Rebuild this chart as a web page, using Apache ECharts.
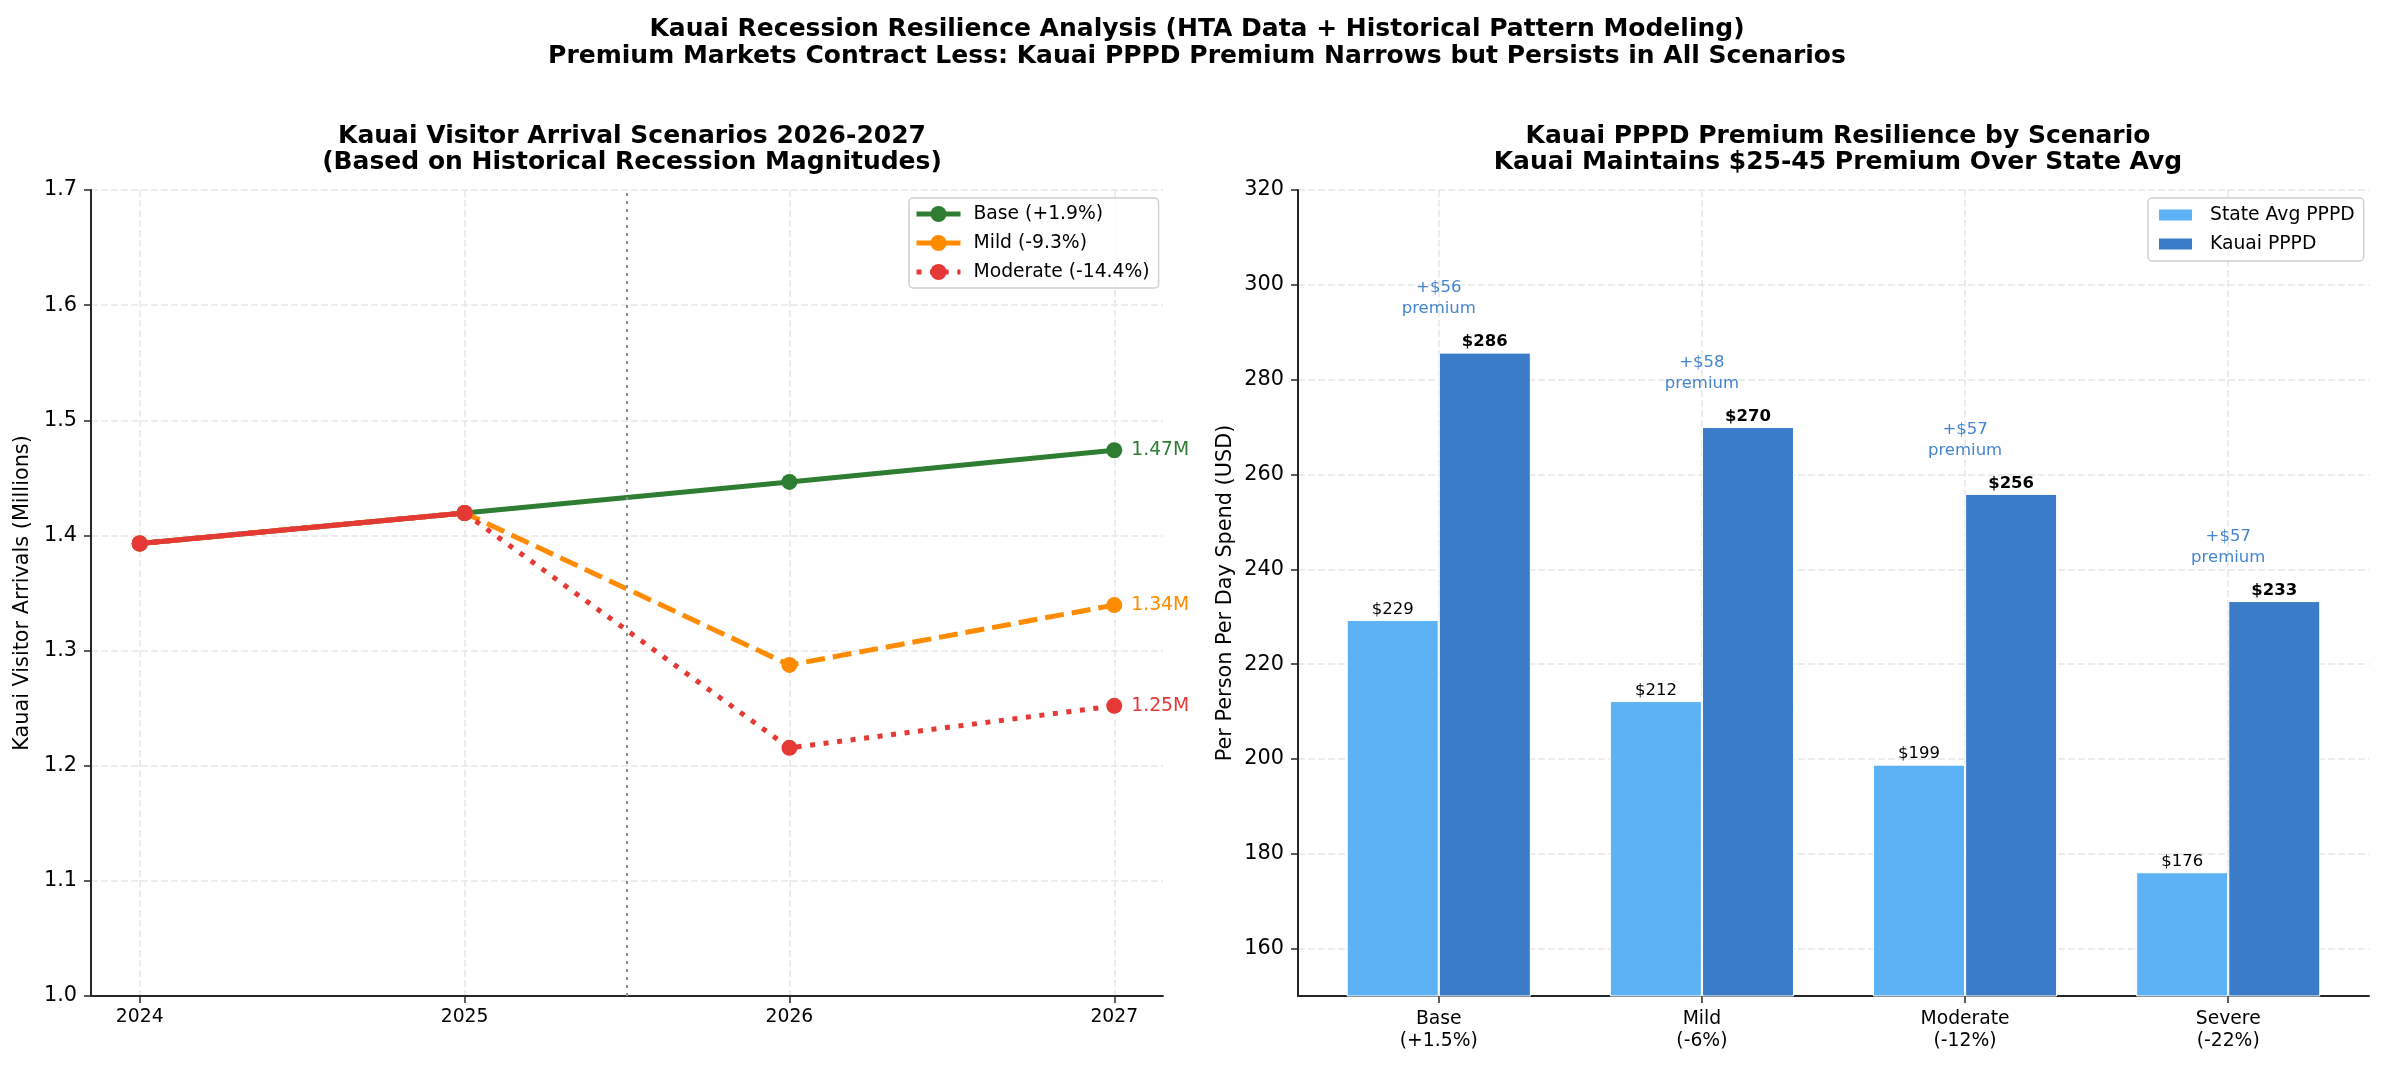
<!DOCTYPE html>
<html>
<head>
<meta charset="utf-8">
<title>Kauai Recession Resilience Analysis</title>
<script src="https://cdn.jsdelivr.net/npm/echarts@6/dist/echarts.min.js"></script>
<style>
  html, body { margin: 0; padding: 0; background: #fff; }
  #chart { width: 2384px; height: 1067px; }
</style>
</head>
<body>
<div id="chart"></div>
<script>
  // 左图：访客数量情景 (百万)
  const years = [2024, 2025, 2026, 2027]
  const baseArrivals = [1.393, 1.4195, 1.4465, 1.474]
  const mildArrivals = [1.393, 1.4195, 1.2875, 1.3395]
  const moderateArrivals = [1.393, 1.4195, 1.2155, 1.252]
  const historyYears = [2024, 2025]
  const arrivalTicks = [1.0, 1.1, 1.2, 1.3, 1.4, 1.5, 1.6, 1.7]

  // 右图：每人每日消费
  const scenarios = ['Base\n(+1.5%)', 'Mild\n(-6%)', 'Moderate\n(-12%)', 'Severe\n(-22%)']
  const stateAvgPPPD = [229.3, 212.2, 198.8, 176.1]
  const kauaiPPPD = [285.7, 270.0, 255.9, 233.3]
  const premiums = [56, 58, 57, 57]
  const pppdTicks = [160, 180, 200, 220, 240, 260, 280, 300, 320]

  const FONT = 'DejaVu Sans'
  const GREEN = '#2e7d32'
  const ORANGE = '#ff8c00'
  const RED = '#e53935'
  const STATE_BLUE = '#5db2f6'
  const KAUAI_BLUE = '#3a7cc8'
  const PREMIUM_BLUE = '#1565c0'
  const AXIS_COLOR = '#262626'

  const catIdx = scenarios.map((s, i) => i)

  const gridLine = { show: true, lineStyle: { color: '#e6e6e6', type: [7, 3], width: 1.5 } }
  const axisLine = { show: true, onZero: false, lineStyle: { color: AXIS_COLOR, width: 2 } }
  const tick = { show: true, length: 7, lineStyle: { color: AXIS_COLOR, width: 1.5 } }

  function arrivalSeries(name, values, color, type) {
    return {
      name: name,
      type: 'line',
      xAxisIndex: 0,
      yAxisIndex: 0,
      data: years.map((y, i) => [y, values[i]]),
      symbol: 'circle',
      symbolSize: 16,
      lineStyle: { color: color, width: 5, type: type },
      itemStyle: { color: color },
      label: {
        show: true,
        position: 'right',
        distance: 9,
        color: color,
        fontFamily: FONT,
        fontSize: 18.75,
        formatter: p => p.dataIndex === years.length - 1 ? p.value[1].toFixed(2) + 'M' : ''
      }
    }
  }

  const chart = echarts.init(document.getElementById('chart'))

  const base = arrivalSeries('Base (+1.9%)', baseArrivals, GREEN, 'solid')
  // 2025年中的分界虚线
  base.markLine = {
    silent: true,
    symbol: 'none',
    label: { show: false },
    lineStyle: { color: '#8c8c8c', type: [3, 5], width: 2 },
    data: [{ xAxis: 2025.5 }]
  }

  chart.setOption({
    animation: false,
    backgroundColor: '#fff',
    textStyle: { fontFamily: FONT },
    title: [
      {
        text: 'Kauai Recession Resilience Analysis (HTA Data + Historical Pattern Modeling)\nPremium Markets Contract Less: Kauai PPPD Premium Narrows but Persists in All Scenarios',
        left: 1192,
        top: 11,
        textAlign: 'center',
        textStyle: { fontFamily: FONT, fontSize: 25, fontWeight: 'bold', color: '#000', lineHeight: 27 }
      },
      {
        text: 'Kauai Visitor Arrival Scenarios 2026-2027\n(Based on Historical Recession Magnitudes)',
        left: 627,
        top: 118,
        textAlign: 'center',
        textStyle: { fontFamily: FONT, fontSize: 25, fontWeight: 'bold', color: '#000', lineHeight: 26 }
      },
      {
        text: 'Kauai PPPD Premium Resilience by Scenario\nKauai Maintains $25-45 Premium Over State Avg',
        left: 1833,
        top: 118,
        textAlign: 'center',
        textStyle: { fontFamily: FONT, fontSize: 25, fontWeight: 'bold', color: '#000', lineHeight: 26 }
      }
    ],
    legend: [
      {
        data: ['Base (+1.9%)', 'Mild (-9.3%)', 'Moderate (-14.4%)'],
        orient: 'vertical',
        left: 909,
        top: 198,
        padding: [5, 9, 5, 5],
        itemGap: 7,
        itemWidth: 44,
        itemHeight: 20,
        lineStyle: { width: 5 },
        backgroundColor: 'rgba(255,255,255,0.85)',
        borderColor: '#d0d0d0',
        borderWidth: 1.5,
        borderRadius: 4,
        textStyle: { fontFamily: FONT, fontSize: 18.75, color: '#000', lineHeight: 22, padding: [0, 0, 0, 8] }
      },
      {
        data: ['State Avg PPPD', 'Kauai PPPD'],
        orient: 'vertical',
        left: 2148,
        top: 198,
        padding: [6, 9, 6, 9],
        itemGap: 7,
        itemWidth: 35,
        itemHeight: 13,
        icon: 'rect',
        backgroundColor: 'rgba(255,255,255,0.85)',
        borderColor: '#d0d0d0',
        borderWidth: 1.5,
        borderRadius: 4,
        textStyle: { fontFamily: FONT, fontSize: 18.75, color: '#000', lineHeight: 22, padding: [0, 0, 0, 12] }
      }
    ],
    grid: [
      { left: 91, right: 1221, top: 190, bottom: 71 },
      { left: 1298, right: 15, top: 190, bottom: 71 }
    ],
    xAxis: [
      {
        type: 'value',
        gridIndex: 0,
        min: 2023.85,
        max: 2027.15,
        axisLine: axisLine,
        axisTick: Object.assign({ customValues: years }, tick),
        axisLabel: {
          customValues: years,
          margin: 12,
          color: '#000',
          fontFamily: FONT,
          fontSize: 18.75,
          formatter: v => String(v)
        },
        splitLine: gridLine
      },
      {
        type: 'value',
        gridIndex: 1,
        min: -0.535,
        max: 3.535,
        axisLine: axisLine,
        axisTick: Object.assign({ customValues: catIdx }, tick),
        axisLabel: {
          customValues: catIdx,
          margin: 12,
          color: '#000',
          fontFamily: FONT,
          fontSize: 18.75,
          lineHeight: 22,
          formatter: v => scenarios[Math.round(v)]
        },
        splitLine: gridLine
      }
    ],
    yAxis: [
      {
        type: 'value',
        gridIndex: 0,
        min: 1.0,
        max: 1.7,
        name: 'Kauai Visitor Arrivals (Millions)',
        nameLocation: 'middle',
        nameGap: 58,
        nameTextStyle: { fontFamily: FONT, fontSize: 20.8, color: '#000' },
        axisLine: axisLine,
        axisTick: Object.assign({ customValues: arrivalTicks }, tick),
        axisLabel: {
          customValues: arrivalTicks,
          margin: 14,
          color: '#000',
          fontFamily: FONT,
          fontSize: 20.8,
          formatter: v => v.toFixed(1)
        },
        splitLine: gridLine
      },
      {
        type: 'value',
        gridIndex: 1,
        min: 150,
        max: 320,
        name: 'Per Person Per Day Spend (USD)',
        nameLocation: 'middle',
        nameGap: 62,
        nameTextStyle: { fontFamily: FONT, fontSize: 20.8, color: '#000' },
        axisLine: axisLine,
        axisTick: Object.assign({ customValues: pppdTicks }, tick),
        axisLabel: {
          customValues: pppdTicks,
          margin: 14,
          color: '#000',
          fontFamily: FONT,
          fontSize: 20.8,
          formatter: v => String(v)
        },
        splitLine: gridLine
      }
    ],
    series: [
      base,
      arrivalSeries('Mild (-9.3%)', mildArrivals, ORANGE, [19, 8]),
      arrivalSeries('Moderate (-14.4%)', moderateArrivals, RED, [5, 8.6]),
      {
        // 历史段 2024-2025，实线覆盖在最上层
        name: 'history',
        type: 'line',
        xAxisIndex: 0,
        yAxisIndex: 0,
        data: historyYears.map((y, i) => [y, moderateArrivals[i]]),
        symbol: 'circle',
        symbolSize: 16,
        lineStyle: { color: RED, width: 5 },
        itemStyle: { color: RED },
        silent: true,
        z: 3
      },
      {
        name: 'State Avg PPPD',
        type: 'bar',
        xAxisIndex: 1,
        yAxisIndex: 1,
        data: stateAvgPPPD.map((v, i) => [i - 0.175, v]),
        barWidth: 92,
        barGap: '-100%',
        itemStyle: { color: STATE_BLUE, borderColor: '#fff', borderWidth: 1 },
        label: {
          show: true,
          position: 'top',
          distance: 2,
          color: '#000',
          fontFamily: FONT,
          fontSize: 16.5,
          formatter: p => '$' + Math.round(p.value[1])
        }
      },
      {
        name: 'Kauai PPPD',
        type: 'bar',
        xAxisIndex: 1,
        yAxisIndex: 1,
        data: kauaiPPPD.map((v, i) => [i + 0.175, v]),
        barWidth: 92,
        barGap: '-100%',
        itemStyle: { color: KAUAI_BLUE, borderColor: '#fff', borderWidth: 1 },
        label: {
          show: true,
          position: 'top',
          distance: 2,
          color: '#000',
          fontFamily: FONT,
          fontSize: 16.5,
          fontWeight: 'bold',
          formatter: p => '$' + Math.round(p.value[1])
        }
      },
      {
        // 溢价标注
        name: 'premium',
        type: 'scatter',
        xAxisIndex: 1,
        yAxisIndex: 1,
        symbolSize: 1,
        itemStyle: { color: 'rgba(0,0,0,0)' },
        silent: true,
        data: kauaiPPPD.map((v, i) => [i, v + 11.4]),
        label: {
          show: true,
          position: 'inside',
          color: PREMIUM_BLUE,
          fontFamily: FONT,
          fontSize: 16.5,
          lineHeight: 21,
          formatter: p => '+$' + premiums[p.dataIndex] + '\npremium'
        }
      }
    ]
  })
</script>
</body>
</html>
